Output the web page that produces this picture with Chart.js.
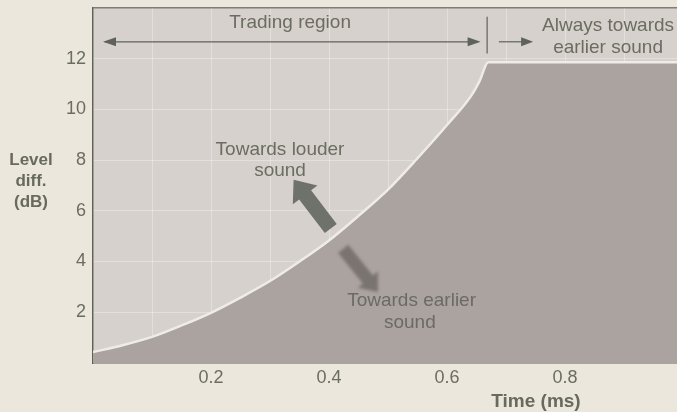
<!DOCTYPE html>
<html>
<head>
<meta charset="utf-8">
<script src="https://cdn.jsdelivr.net/npm/chart.js@4"></script>
<style>
  html, body { margin: 0; padding: 0; background: #ebe7dd; overflow: hidden; }
  #wrap { width: 700px; height: 422px; margin-top: -10px; }
</style>
</head>
<body>
<div id="wrap"><canvas id="precedence"></canvas></div>
<script>
// boundary between "towards louder" and "towards earlier" (level diff vs delay)
const timeMs  = [0, 0.05, 0.1, 0.15, 0.2, 0.25, 0.3, 0.35, 0.4, 0.45, 0.5, 0.55, 0.6, 0.64, 0.655, 0.67, 1.0];
const levelDb = [0.43, 0.7, 1.03, 1.48, 1.98, 2.58, 3.23, 4.0, 4.83, 5.8, 6.83, 8.07, 9.38, 10.5, 11.1, 11.85, 11.85];
const xTicks = [0.2, 0.4, 0.6, 0.8];
const yTicks = [2, 4, 6, 8, 10, 12];

const textColor = '#6a6d60';
const axisColor = '#5c6355';
const shift = 10; // canvas sits 10px above the page top

const points = timeMs.map((t, i) => ({ x: t, y: levelDb[i] }));

function blockArrow(ctx, x0, y0, x1, y1, bodyW, headW, headL) {
  const dx = x1 - x0, dy = y1 - y0;
  const len = Math.hypot(dx, dy);
  const ux = dx / len, uy = dy / len;
  const px = -uy, py = ux;
  const bx = x1 - ux * headL, by = y1 - uy * headL;
  ctx.beginPath();
  ctx.moveTo(x0 + px * bodyW / 2, y0 + py * bodyW / 2);
  ctx.lineTo(bx + px * bodyW / 2, by + py * bodyW / 2);
  ctx.lineTo(bx + px * headW / 2, by + py * headW / 2);
  ctx.lineTo(x1, y1);
  ctx.lineTo(bx - px * headW / 2, by - py * headW / 2);
  ctx.lineTo(bx - px * bodyW / 2, by - py * bodyW / 2);
  ctx.lineTo(x0 - px * bodyW / 2, y0 - py * bodyW / 2);
  ctx.closePath();
  ctx.fill();
}

function arrowHead(ctx, x, y, dir, len, w) {
  ctx.beginPath();
  ctx.moveTo(x, y);
  ctx.lineTo(x - dir * len, y - w / 2);
  ctx.lineTo(x - dir * len, y + w / 2);
  ctx.closePath();
  ctx.fill();
}

const plotBackground = {
  id: 'plotBackground',
  beforeDraw(chart) {
    const { ctx, chartArea: a } = chart;
    ctx.save();
    ctx.fillStyle = '#d7d1cd';
    ctx.fillRect(a.left, a.top, a.right - a.left, a.bottom - a.top);
    ctx.restore();
  }
};

const notes = {
  id: 'notes',
  afterDraw(chart) {
    const { ctx, chartArea: a } = chart;
    const X = v => chart.scales.x.getPixelForValue(v);
    const Y = v => chart.scales.y.getPixelForValue(v);
    ctx.save();

    // top frame line
    ctx.strokeStyle = '#7c7f74';
    ctx.lineWidth = 1.5;
    ctx.beginPath();
    ctx.moveTo(a.left, a.top);
    ctx.lineTo(a.right, a.top);
    ctx.stroke();

    ctx.fillStyle = textColor;
    ctx.strokeStyle = '#5e6258';
    ctx.textAlign = 'center';
    ctx.textBaseline = 'middle';
    ctx.font = '19px "Liberation Sans", Arial, sans-serif';

    ctx.fillText('Trading region', X(0.334), Y(13.4));
    ctx.fillText('Always towards', X(0.873), Y(13.3));
    ctx.fillText('earlier sound', X(0.873), Y(12.43));
    ctx.fillText('Towards louder', X(0.317), Y(8.4));
    ctx.fillText('sound', X(0.317), Y(7.57));

    // trading region span
    ctx.lineWidth = 1.2;
    const ay = Y(12.66);
    ctx.beginPath();
    ctx.moveTo(X(0.02), ay);
    ctx.lineTo(X(0.652), ay);
    ctx.stroke();
    ctx.fillStyle = '#5e6258';
    arrowHead(ctx, X(0.017), ay, -1, 13, 9);
    arrowHead(ctx, X(0.657), ay, 1, 13, 9);

    ctx.beginPath();
    ctx.moveTo(X(0.668), Y(13.65));
    ctx.lineTo(X(0.668), Y(12.2));
    ctx.stroke();

    ctx.beginPath();
    ctx.moveTo(X(0.688), ay);
    ctx.lineTo(X(0.73), ay);
    ctx.stroke();
    arrowHead(ctx, X(0.746), ay, 1, 12, 9);

    // direction arrows
    ctx.fillStyle = '#6f716b';
    blockArrow(ctx, X(0.403), Y(5.3), X(0.34), Y(7.22), 15, 31, 19);

    ctx.filter = 'blur(1.5px)';
    ctx.fillStyle = '#7a7471';
    blockArrow(ctx, X(0.424), Y(4.5), X(0.483), Y(2.8), 13, 26, 16);
    ctx.filter = 'none';

    ctx.fillStyle = '#6b6a66';
    ctx.fillText('Towards earlier', X(0.54), Y(2.45));
    ctx.fillText('sound', X(0.537), Y(1.6));

    // axis titles
    ctx.fillStyle = '#686a5e';
    ctx.font = 'bold 17px "Liberation Sans", Arial, sans-serif';
    ctx.fillText('Level', 31, 160 + shift);
    ctx.fillText('diff.', 31, 181 + shift);
    ctx.fillText('(dB)', 31, 202 + shift);
    ctx.font = 'bold 19px "Liberation Sans", Arial, sans-serif';
    ctx.fillText('Time (ms)', 536, 402 + shift);
    ctx.restore();
  }
};

new Chart(document.getElementById('precedence'), {
  type: 'line',
  data: {
    datasets: [{
      data: points,
      fill: 'origin',
      backgroundColor: '#aba39f',
      borderColor: '#efece7',
      borderWidth: 2.5,
      pointRadius: 0,
      cubicInterpolationMode: 'monotone'
    }]
  },
  options: {
    responsive: true,
    maintainAspectRatio: false,
    animation: false,
    layout: { padding: { top: 17, right: 17, left: 0, bottom: 0 } },
    plugins: { legend: { display: false }, tooltip: { enabled: false } },
    scales: {
      x: {
        type: 'linear',
        min: 0,
        max: 1,
        z: 1,
        afterFit(scale) { scale.height = 49; },
        grid: { color: 'rgba(255,255,255,0.3)', lineWidth: 1, drawTicks: false },
        border: { color: axisColor, width: 1.5 },
        ticks: {
          stepSize: 0.1,
          padding: 4,
          color: textColor,
          font: { family: '"Liberation Sans", Arial, sans-serif', size: 18 },
          maxRotation: 0,
          autoSkip: false,
          callback(v) {
            const r = Math.round(v * 10) / 10;
            return xTicks.includes(r) ? r.toFixed(1) : '';
          }
        }
      },
      y: {
        min: 0,
        max: 14,
        z: 1,
        afterFit(scale) { scale.width = 93; },
        grid: { color: 'rgba(255,255,255,0.3)', lineWidth: 1, drawTicks: false },
        border: { color: axisColor, width: 1.5 },
        ticks: {
          stepSize: 2,
          padding: 7,
          color: textColor,
          font: { family: '"Liberation Sans", Arial, sans-serif', size: 18 },
          callback(v) { return yTicks.includes(v) ? String(v) : ''; }
        }
      }
    }
  },
  plugins: [plotBackground, notes]
});
</script>
</body>
</html>
